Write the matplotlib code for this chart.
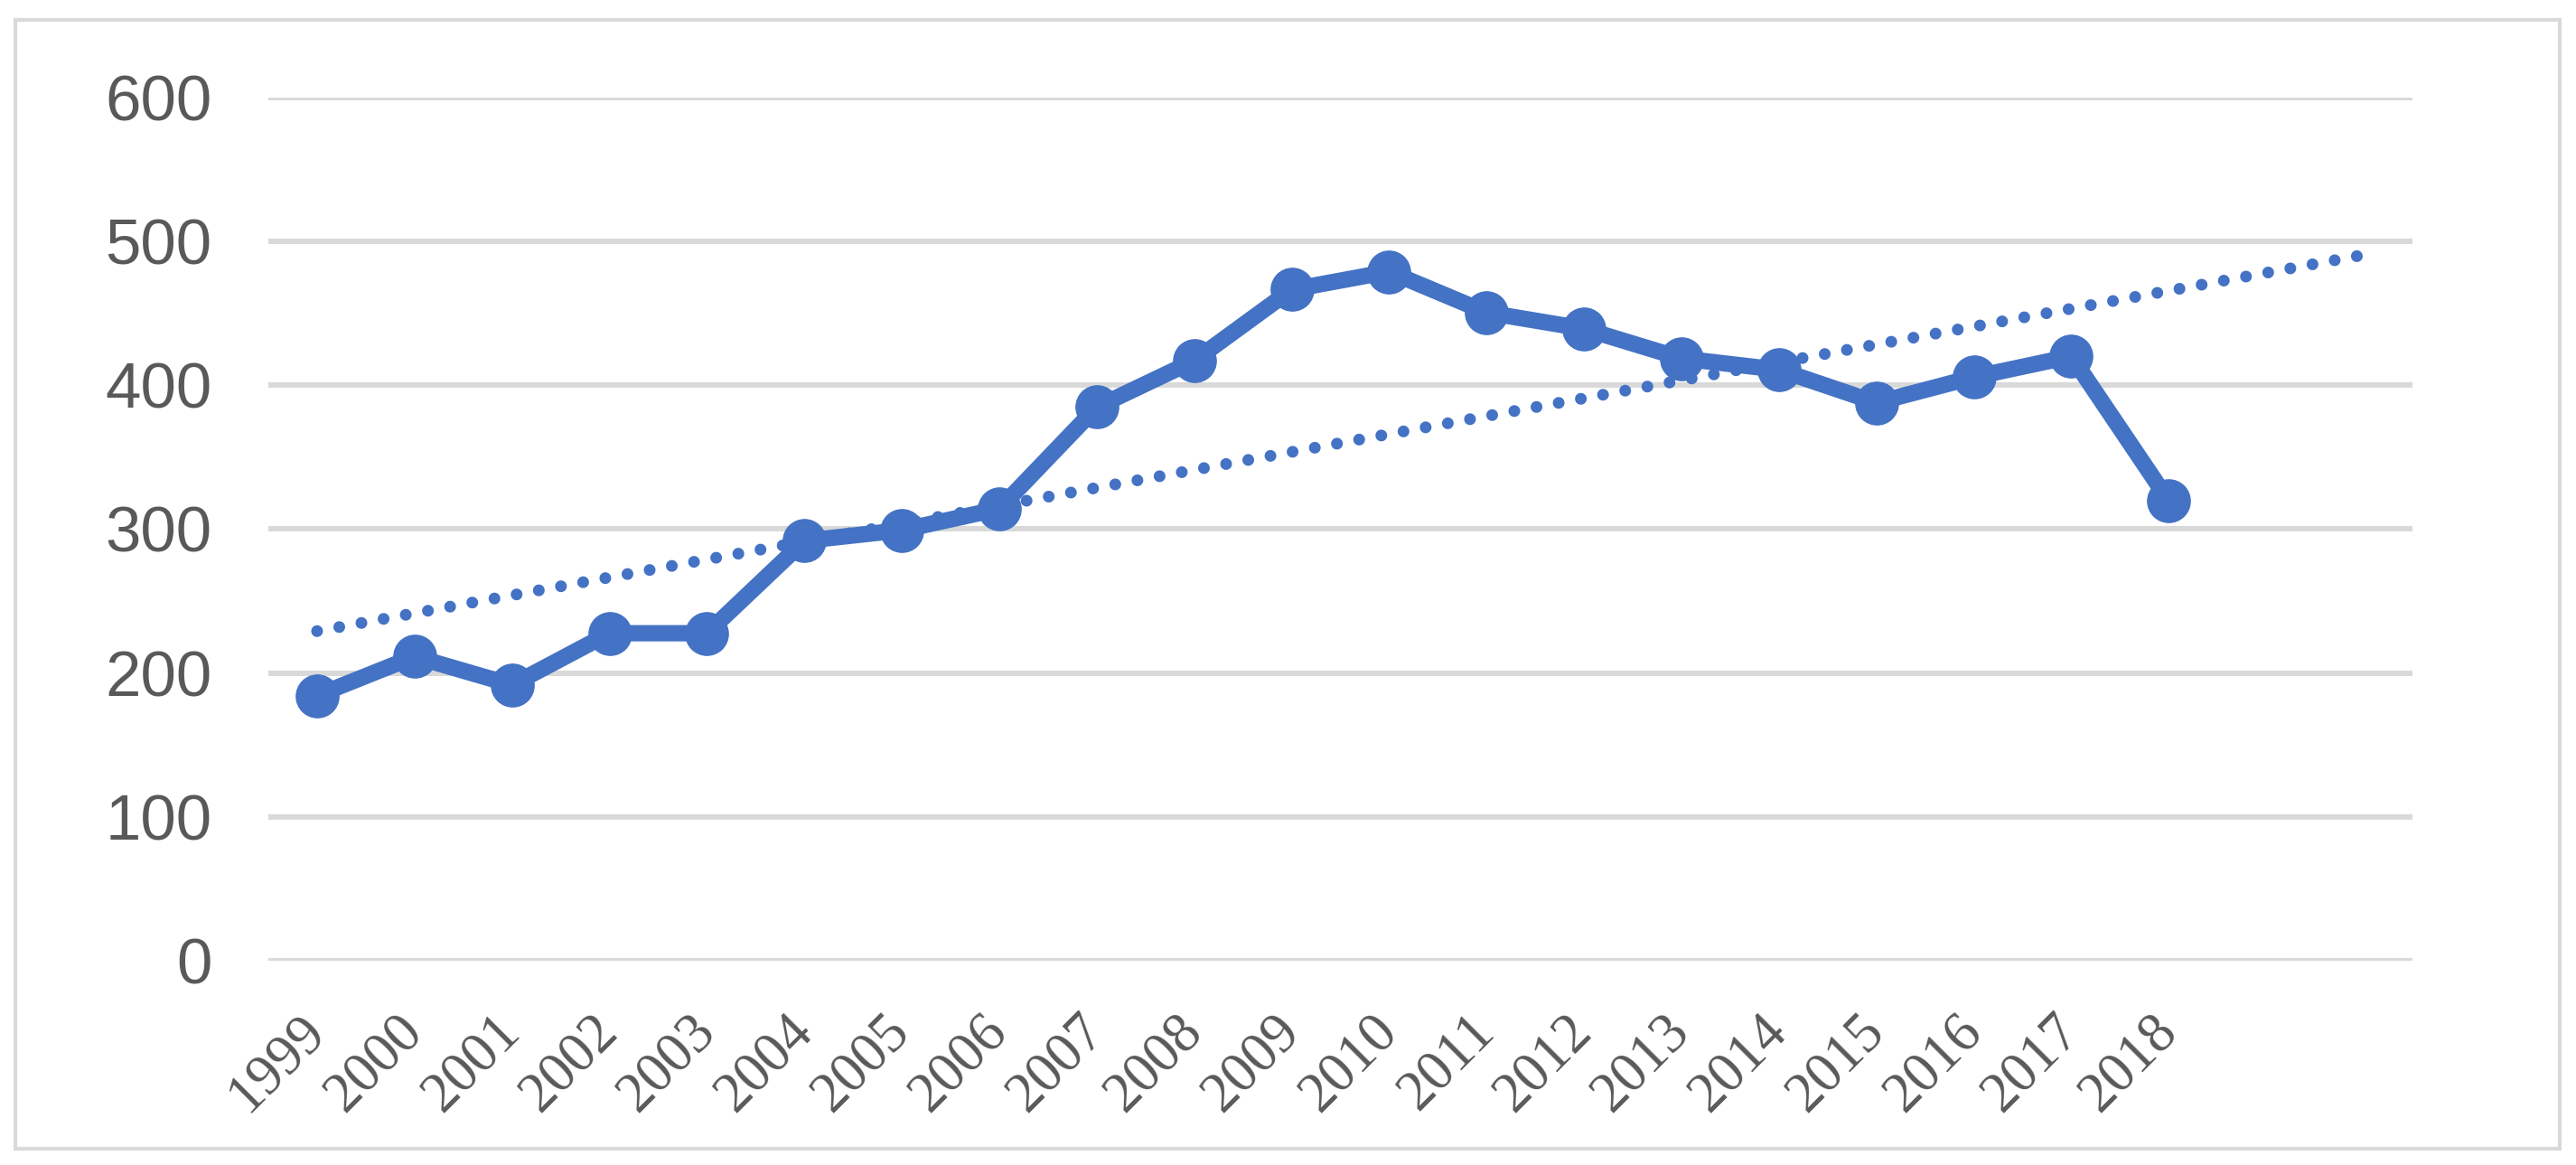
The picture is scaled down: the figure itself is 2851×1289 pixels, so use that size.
import numpy as np
import matplotlib.pyplot as plt
from matplotlib.patches import Rectangle

# values
years = [str(y) for y in range(1999, 2019)]
values = [184.3, 211.4, 191.7, 227.6, 227.6, 291.8, 299.2, 314.1, 384.7, 417.0,
          466.4, 478.9, 450.5, 439.2, 418.6, 410.7, 387.8, 405.6, 420.0, 319.6]
forward_periods = 2  # trendline goes 2 periods past the last year
y_ticks = [0, 100, 200, 300, 400, 500, 600]

blue = "#4472C4"
grid_grey = "#D9D9D9"
text_grey = "#595959"

W, H = 2851, 1289
fig = plt.figure(figsize=(W / 100, H / 100), dpi=100)
ax = fig.add_axes([297 / W, 1 - 1063 / H, (2670 - 297) / W, (1063 - 107.7) / H])

x = np.arange(len(values))
coef = np.polyfit(x, values, 1)
trend_x = np.arange(len(values) + forward_periods)
trend_y = np.polyval(coef, trend_x)

ax.plot(trend_x, trend_y, color=blue, lw=9.4, linestyle=(0, (0.001, 1.91)),
        dash_capstyle="round", zorder=2)
ax.plot(x, values, color=blue, lw=13, marker="o", markersize=34,
        solid_joinstyle="round", zorder=3)

ax.set_xlim(-0.5, len(values) + forward_periods - 0.5)
ax.set_ylim(0, 600)
ax.set_yticks(y_ticks)
ax.set_yticklabels([str(v) for v in y_ticks], family="Liberation Sans",
                   fontsize=51, color=text_grey)
ax.set_xticks(x)
ax.set_xticklabels(years, family="Liberation Serif", fontsize=45, color=text_grey,
                   rotation=45, ha="right", va="center", rotation_mode="anchor")
ax.tick_params(axis="y", length=0, pad=45)
ax.tick_params(axis="x", length=0, pad=50)

ax.yaxis.grid(True, color=grid_grey, lw=4.3)
ax.set_axisbelow(True)
for s in ax.spines.values():
    s.set_visible(False)

# outer chart border
fig.patches.append(Rectangle((17 / W, 1 - 1271 / H), (2833 - 17) / W, (1271 - 22) / H,
                             transform=fig.transFigure, fill=False,
                             edgecolor=grid_grey, lw=3))

fig.savefig("out.png", dpi=100, facecolor="white")
